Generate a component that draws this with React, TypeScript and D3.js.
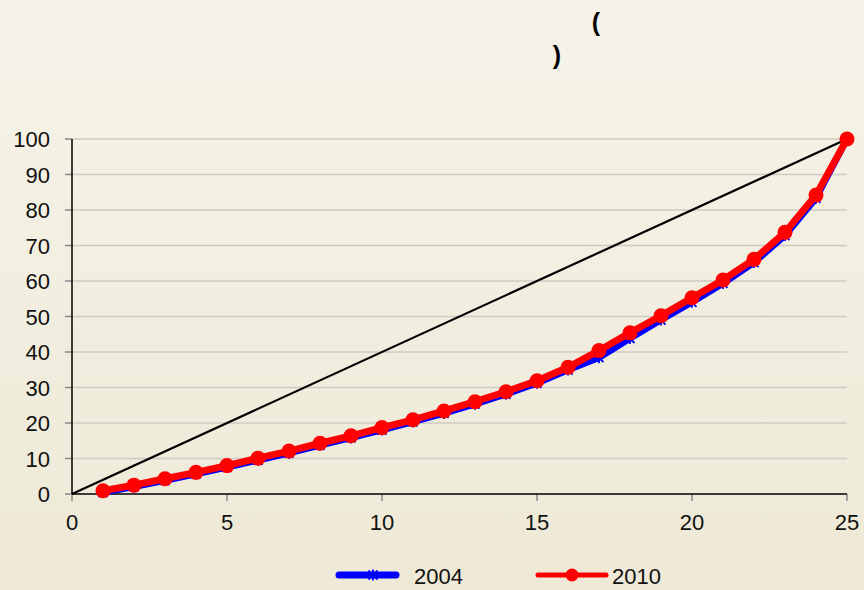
import React from "react";
import * as d3 from "d3";

const xValues = [1, 2, 3, 4, 5, 6, 7, 8, 9, 10, 11, 12, 13, 14, 15, 16, 17, 18, 19, 20, 21, 22, 23, 24, 25];
const series2004 = [0.4, 2.0, 3.8, 5.6, 7.5, 9.5, 11.5, 13.7, 15.8, 18.0, 20.3, 22.7, 25.3, 28.1, 31.2, 34.9, 38.4, 43.8, 49.0, 54.0, 59.3, 65.2, 72.8, 83.3, 100];
const series2010 = [0.9, 2.5, 4.3, 6.1, 8.0, 10.1, 12.1, 14.3, 16.4, 18.7, 20.9, 23.4, 26.0, 28.8, 31.9, 35.7, 40.4, 45.4, 50.2, 55.3, 60.3, 66.1, 73.7, 84.2, 100];
const equalityLine = [[0, 0], [25, 100]];
const xTicks = [0, 5, 10, 15, 20, 25];
const yTicks = [0, 10, 20, 30, 40, 50, 60, 70, 80, 90, 100];
const legendLabels = ["2004", "2010"];

const W = 864, H = 590;
const left = 72, right = 847, top = 139, bottom = 494;

export default function App() {
  const x = d3.scaleLinear().domain([0, 25]).range([left, right]);
  const y = d3.scaleLinear().domain([0, 100]).range([bottom, top]);
  const line = d3.line<[number, number]>().x(d => x(d[0])).y(d => y(d[1]));
  const d2004: [number, number][] = xValues.map((v, i) => [v, series2004[i]]);
  const d2010: [number, number][] = xValues.map((v, i) => [v, series2010[i]]);
  const font = "Arial, 'Liberation Sans', sans-serif";

  const star = (cx: number, cy: number, s: number, key: string) => (
    <path key={key} d={`M${cx - s},${cy - s}L${cx + s},${cy + s}M${cx - s},${cy + s}L${cx + s},${cy - s}M${cx},${cy - s - 1}L${cx},${cy + s + 1}`} stroke="#0000ff" strokeWidth={1.8} fill="none" />
  );

  return (
    <svg width={W} height={H} style={{ position: "absolute", left: 0, top: 0 }} fontFamily={font}>
      <defs>
        <linearGradient id="bg" x1="0" y1="0" x2="0" y2="1">
          <stop offset="0" stopColor="#f6f3e9" />
          <stop offset="1" stopColor="#eee9d6" />
        </linearGradient>
      </defs>
      <rect x={0} y={0} width={W} height={H} fill="url(#bg)" />
      <text x={596} y={31} fontSize={25} fontWeight="bold" textAnchor="middle" fill="#000">(</text>
      <text x={557} y={64} fontSize={25} fontWeight="bold" textAnchor="middle" fill="#000">)</text>

      {yTicks.filter(t => t > 0).map(t => (
        <line key={"g" + t} x1={left} x2={right} y1={y(t)} y2={y(t)} stroke="#cfcbc2" strokeWidth={1.5} />
      ))}
      {yTicks.map(t => (
        <g key={"y" + t}>
          <line x1={left - 7} x2={left} y1={y(t)} y2={y(t)} stroke="#888" strokeWidth={1.5} />
          <text x={50} y={y(t) + 8} fontSize={22} textAnchor="end" fill="#111">{t}</text>
        </g>
      ))}
      {xTicks.map(t => (
        <g key={"x" + t}>
          <line x1={x(t)} x2={x(t)} y1={bottom} y2={bottom + 7} stroke="#888" strokeWidth={1.5} />
          <text x={x(t)} y={bottom + 36} fontSize={22} textAnchor="middle" fill="#111">{t}</text>
        </g>
      ))}
      <line x1={left} x2={left} y1={top} y2={bottom} stroke="#000" strokeWidth={1.5} />
      <line x1={left} x2={right} y1={bottom} y2={bottom} stroke="#000" strokeWidth={1.5} />

      <path d={line(equalityLine as [number, number][]) || ""} stroke="#000" strokeWidth={2.2} fill="none" />

      <path d={line(d2004) || ""} stroke="#0000ff" strokeWidth={6.5} fill="none" strokeLinejoin="round" />
      {d2004.map((p, i) => star(x(p[0]), y(p[1]), 4.5, "s" + i))}

      <path d={line(d2010) || ""} stroke="#ff0000" strokeWidth={7} fill="none" strokeLinejoin="round" />
      {d2010.map((p, i) => (
        <circle key={"c" + i} cx={x(p[0])} cy={y(p[1])} r={7.5} fill="#ff0000" />
      ))}

      <g>
        <line x1={339} x2={396} y1={575} y2={575} stroke="#0000ff" strokeWidth={7} strokeLinecap="round" />
        {star(373, 575, 4.5, "ls")}
        <text x={414} y={584} fontSize={22} fill="#111">{legendLabels[0]}</text>
        <line x1={538} x2={606} y1={575} y2={575} stroke="#ff0000" strokeWidth={5} strokeLinecap="round" />
        <circle cx={572} cy={575} r={6.5} fill="#ff0000" />
        <text x={612} y={584} fontSize={22} fill="#111">{legendLabels[1]}</text>
      </g>
    </svg>
  );
}
